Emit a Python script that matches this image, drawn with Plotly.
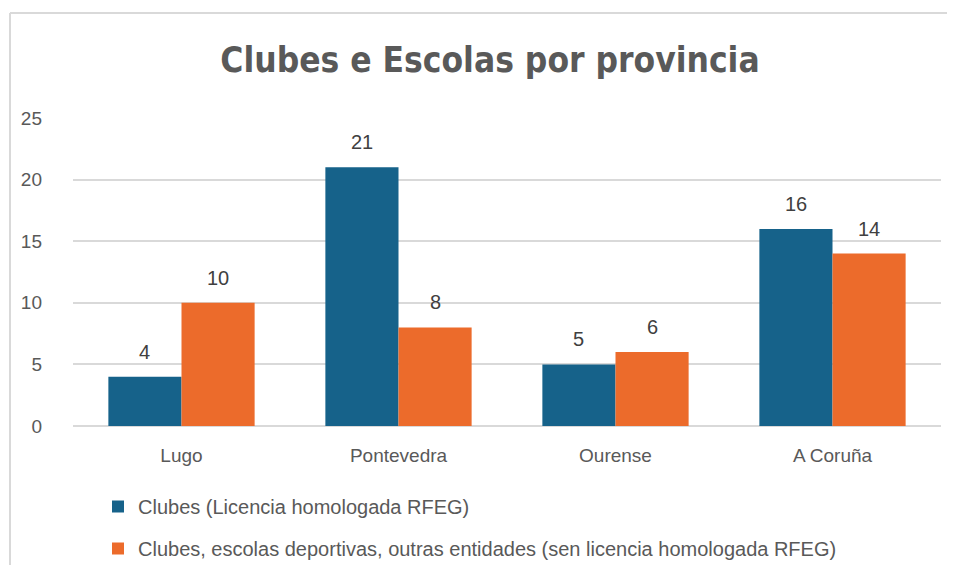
import plotly.graph_objects as go

categories = ["Lugo", "Pontevedra", "Ourense", "A Coruña"]
clubes_licencia = [4, 21, 5, 16]
clubes_sen_licencia = [10, 8, 6, 14]
series_names = [
    "Clubes (Licencia homologada RFEG)",
    "Clubes, escolas deportivas, outras entidades (sen licencia homologada RFEG)",
]
y_ticks = [0, 5, 10, 15, 20, 25]

BLUE = "#16628a"
ORANGE = "#ec6b2b"
TEXT = "#595959"
LABEL = "#404040"
GRID = "#d9d9d9"
FONT = "Liberation Sans, Arial, sans-serif"

# page is offset by the 8px default body margin
OFF = 8
W, H = 955 - OFF, 581 - 2 * OFF - 8
L, T = 73 - OFF, 118 - OFF
R = W - (941 - OFF)
B = H - (426 - OFF)
pw, ph = W - L - R, H - T - B

fig = go.Figure()
fig.add_trace(go.Bar(x=categories, y=clubes_licencia, name=series_names[0],
                     marker=dict(color=BLUE, line=dict(width=0)), legendgroup="a"))
fig.add_trace(go.Bar(x=categories, y=clubes_sen_licencia, name=series_names[1],
                     marker=dict(color=ORANGE, line=dict(width=0)), legendgroup="b"))

bargap = 0.326
half = (1 - bargap) / 4
cat_px = pw / len(categories)
annotations = []
for vals, sign in ((clubes_licencia, -1), (clubes_sen_licencia, 1)):
    for c, v in zip(categories, vals):
        annotations.append(dict(x=c, y=v, xref="x", yref="y", text=str(v), showarrow=False,
                                yanchor="bottom", yshift=12, xshift=sign * half * cat_px,
                                font=dict(family=FONT, size=20, color=LABEL)))

def px_x(px):
    return (px - OFF - L) / pw

def px_y(py):
    return (H - B - (py - OFF)) / ph

shapes = [
    dict(type="line", xref="paper", yref="paper", x0=px_x(10), x1=px_x(10),
         y0=px_y(H + OFF), y1=px_y(13), line=dict(color=GRID, width=2), layer="below"),
    dict(type="line", xref="paper", yref="paper", x0=px_x(10), x1=px_x(W + OFF),
         y0=px_y(13), y1=px_y(13), line=dict(color=GRID, width=2), layer="below"),
]

fig.update_layout(
    width=W, height=H,
    margin=dict(l=L, r=R, t=T, b=B, autoexpand=False),
    paper_bgcolor="white", plot_bgcolor="white",
    barmode="group", bargap=bargap, bargroupgap=0,
    title=dict(text="<b>Clubes e Escolas por provincia</b>", x=(490 - OFF) / W, xanchor="center",
               y=1 - (60 - OFF) / H, yanchor="middle", yref="container",
               font=dict(family="Liberation Sans Narrow, DejaVu Sans Condensed, sans-serif",
                         size=35, color=TEXT)),
    xaxis=dict(showgrid=False, showline=False, ticks="", ticklabelstandoff=16,
               tickfont=dict(family=FONT, size=19, color=TEXT)),
    yaxis=dict(range=[0, 25], tickvals=y_ticks, showgrid=True, gridcolor=GRID, gridwidth=1.5,
               zeroline=True, zerolinecolor=GRID, zerolinewidth=1.5, showline=False,
               ticks="", ticklabelstandoff=30,
               tickfont=dict(family=FONT, size=19, color=TEXT)),
    legend=dict(orientation="v", x=px_x(98), xanchor="left",
                y=px_y(487), yanchor="top", traceorder="grouped", tracegroupgap=13,
                font=dict(family=FONT, size=20, color=TEXT), itemwidth=30,
                bgcolor="rgba(0,0,0,0)"),
    annotations=annotations,
    shapes=shapes,
)

fig.write_html("out.html")
